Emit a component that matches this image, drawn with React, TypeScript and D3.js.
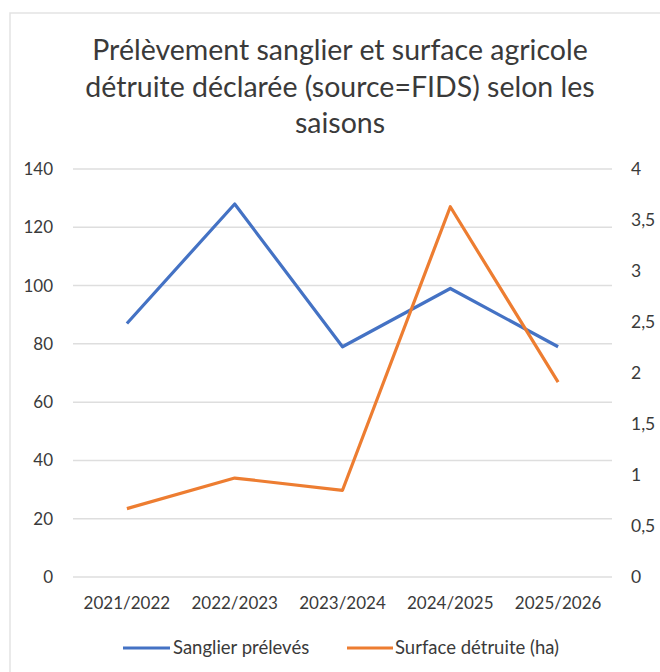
import React from "react";
import * as d3 from "d3";

const saisons = ["2021/2022", "2022/2023", "2023/2024", "2024/2025", "2025/2026"];
const sanglierPreleves = [87, 128, 79, 99, 79];
const surfaceDetruite = [0.67, 0.97, 0.85, 3.63, 1.91];
const leftTicks = [0, 20, 40, 60, 80, 100, 120, 140];
const rightTicks = [0, 0.5, 1, 1.5, 2, 2.5, 3, 3.5, 4];
const titleLines = [
  "Prélèvement sanglier et surface agricole",
  "détruite déclarée (source=FIDS) selon les",
  "saisons",
];

const W = 660;
const H = 672;
const BLUE = "#4472C4";
const ORANGE = "#ED7D31";
const TXT = "#3a3a3a";
const FONT = "Lato, 'Open Sans', sans-serif";

export default function App() {
  const margin = { left: 73, right: 612, top: 169, bottom: 577 };

  const x = d3
    .scaleBand()
    .domain(saisons)
    .range([margin.left, margin.right]);
  const yLeft = d3.scaleLinear().domain([0, 140]).range([margin.bottom, margin.top]);
  const yRight = d3.scaleLinear().domain([0, 4]).range([margin.bottom, margin.top]);

  const cx = (d: string) => (x(d) as number) + x.bandwidth() / 2;

  const lineLeft = d3
    .line<number>()
    .x((d, i) => cx(saisons[i]))
    .y((d) => yLeft(d));
  const lineRight = d3
    .line<number>()
    .x((d, i) => cx(saisons[i]))
    .y((d) => yRight(d));

  const fmt = (v: number) => String(v).replace(".", ",");

  return (
    <svg
      width={W}
      height={H}
      style={{ position: "absolute", left: 0, top: 0, background: "#fff" }}
      fontFamily={FONT}
    >
      <rect x={10} y={13} width={W + 10} height={H + 10} fill="#fff" stroke="#e3e3e3" strokeWidth={1.5} />

      {titleLines.map((t, i) => (
        <text key={i} x={340} y={60 + i * 36.5} textAnchor="middle" fontSize={28.5} fill={TXT}>
          {t}
        </text>
      ))}

      {/* gridlines */}
      {leftTicks.map((t) => (
        <line
          key={t}
          x1={margin.left}
          x2={margin.right}
          y1={yLeft(t)}
          y2={yLeft(t)}
          stroke="#dedede"
          strokeWidth={1.5}
        />
      ))}

      {/* left axis */}
      {leftTicks.map((t) => (
        <text key={t} x={53} y={yLeft(t) + 6} textAnchor="end" fontSize={17} fill={TXT}>
          {t}
        </text>
      ))}

      {/* right axis */}
      {rightTicks.map((t) => (
        <text key={t} x={631} y={yRight(t) + 6} textAnchor="start" fontSize={17.5} fill={TXT}>
          {fmt(t)}
        </text>
      ))}

      {/* x axis */}
      {saisons.map((s) => (
        <text key={s} x={cx(s)} y={609} textAnchor="middle" fontSize={17} fill={TXT}>
          {s}
        </text>
      ))}

      <path d={lineLeft(sanglierPreleves) || ""} fill="none" stroke={BLUE} strokeWidth={3.2} strokeLinejoin="round" />
      <path d={lineRight(surfaceDetruite) || ""} fill="none" stroke={ORANGE} strokeWidth={3.2} strokeLinejoin="round" />

      {/* legend */}
      <line x1={123} x2={170} y1={648} y2={648} stroke={BLUE} strokeWidth={3.2} />
      <text x={173} y={654} fontSize={18.5} fill={TXT}>
        Sanglier prélevés
      </text>
      <line x1={347} x2={393} y1={648} y2={648} stroke={ORANGE} strokeWidth={3.2} />
      <text x={395} y={654} fontSize={18.5} fill={TXT}>
        Surface détruite (ha)
      </text>
    </svg>
  );
}
